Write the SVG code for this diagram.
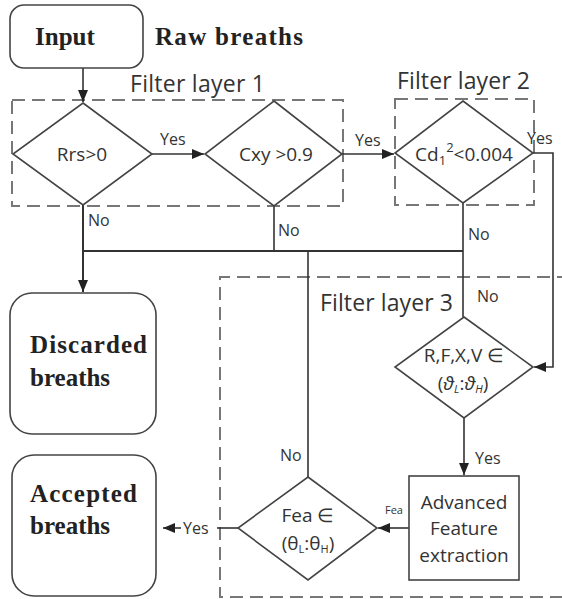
<svg xmlns="http://www.w3.org/2000/svg" width="562" height="599" viewBox="0 0 562 599">
<style>
.ln{fill:none;stroke:#333;stroke-width:1.6}
.sh{fill:#fff;stroke:#444;stroke-width:1.6}
.dash{fill:none;stroke:#777;stroke-width:2;stroke-dasharray:13 7}
.bt{font-family:"Liberation Serif",serif;font-weight:bold;font-size:25px;fill:#222}
.st{font-family:"Open Sans","Liberation Sans",sans-serif;fill:#333}
.lay{font-size:23px}
.dt{font-size:19px;text-anchor:middle}
.lb{font-size:16px}
</style>
<defs>
<marker id="ah" markerWidth="12" markerHeight="10" refX="12" refY="5" orient="auto" markerUnits="userSpaceOnUse">
<path d="M0,0 L12,5 L0,10 Z" fill="#222"/>
</marker>
</defs>
<g id="layers">
<rect class="dash" x="12" y="100" width="331" height="106"/>
<text class="st lay" x="130" y="92" textLength="135">Filter layer 1</text>
<rect class="dash" x="395" y="99" width="139" height="106"/>
<text class="st lay" x="397" y="89" textLength="133">Filter layer 2</text>
<path class="dash" d="M570,277 H220 V597 H570"/>
<text class="st lay" x="320" y="311" textLength="133">Filter layer 3</text>
</g>
<g id="connectors">
<path class="ln" d="M83,68 V102" marker-end="url(#ah)"/>
<path class="ln" d="M151,154 H204" marker-end="url(#ah)"/>
<text class="st lb" x="160" y="145">Yes</text>
<path class="ln" d="M342,154 H394" marker-end="url(#ah)"/>
<text class="st lb" x="355" y="146">Yes</text>
<path class="ln" d="M533,153 H553 V367 H534" marker-end="url(#ah)"/>
<text class="st lb" x="527" y="144">Yes</text>
<path class="ln" d="M83,205 V292" marker-end="url(#ah)" style="stroke-width:2"/>
<path class="ln" d="M274,206 V251" />
<path class="ln" d="M83,251 H463" style="stroke-width:2"/>
<path class="ln" d="M463,203 V317"/>
<text class="st lb" x="88" y="226">No</text>
<text class="st lb" x="278" y="236">No</text>
<text class="st lb" x="468" y="240">No</text>
<text class="st lb" x="477" y="302">No</text>
<path class="ln" d="M308,251 V477"/>
<text class="st lb" x="280" y="461">No</text>
<path class="ln" d="M464,418 V475" marker-end="url(#ah)"/>
<text class="st lb" x="475" y="464">Yes</text>
<path class="ln" d="M409,528 H378" marker-end="url(#ah)"/>
<text class="st" font-size="11" x="385" y="514">Fea</text>
<path class="ln" d="M238,528 H217"/>
<path class="ln" d="M181,528 H163" marker-end="url(#ah)"/>
<text class="st lb" x="183" y="534">Yes</text>
</g>
<g id="input">
<rect class="sh" x="10" y="5" width="133" height="63" rx="14"/>
<text class="bt" x="35" y="45">Input</text>
</g>
<text class="bt" id="raw" x="155" y="45" textLength="148">Raw breaths</text>
<g id="rrs">
<path class="sh" d="M83,103 L152,154 L83,205 L13,154 Z"/>
<text class="st dt" x="82" y="161">Rrs&gt;0</text>
</g>
<g id="cxy">
<path class="sh" d="M274,101 L342,154 L274,206 L205,154 Z"/>
<text class="st dt" x="276" y="161">Cxy &gt;0.9</text>
</g>
<g id="cd">
<path class="sh" d="M463,101 L533,153 L463,203 L395,153 Z"/>
<text class="st dt" x="464" y="161">Cd<tspan font-size="13" dy="4">1</tspan><tspan font-size="13" dy="-13">2</tspan><tspan dy="9">&lt;0.004</tspan></text>
</g>
<g id="rfxv">
<path class="sh" d="M464,317 L533,367 L464,418 L395,367 Z"/>
<text class="st dt" x="464" y="362">R,F,X,V ∈</text>
<text class="st dt" x="463" y="390">(<tspan font-style="italic">ϑ</tspan><tspan font-size="11" font-style="italic" dy="3">L</tspan><tspan dy="-3">:</tspan><tspan font-style="italic">ϑ</tspan><tspan font-size="11" font-style="italic" dy="3">H</tspan><tspan dy="-3">)</tspan></text>
</g>
<g id="advanced">
<rect class="sh" x="409" y="476" width="110" height="104"/>
<text class="st" font-size="19" text-anchor="middle" x="464" y="509">Advanced</text>
<text class="st" font-size="19" text-anchor="middle" x="464" y="535">Feature</text>
<text class="st" font-size="19" text-anchor="middle" x="464" y="562">extraction</text>
</g>
<g id="fea">
<path class="sh" d="M308,477 L377,528 L308,580 L238,528 Z"/>
<text class="st dt" x="308" y="522">Fea ∈</text>
<text class="st dt" x="308" y="550">(θ<tspan font-size="11" dy="3">L</tspan><tspan dy="-3">:θ</tspan><tspan font-size="11" dy="3">H</tspan><tspan dy="-3">)</tspan></text>
</g>
<g id="discarded">
<rect class="sh" x="10" y="293" width="146" height="141" rx="22"/>
<text class="bt" x="30" y="353" textLength="117">Discarded</text>
<text class="bt" x="30" y="386">breaths</text>
</g>
<g id="accepted">
<rect class="sh" x="12" y="455" width="144" height="141" rx="22"/>
<text class="bt" x="30" y="502" textLength="107">Accepted</text>
<text class="bt" x="30" y="534">breaths</text>
</g>
</svg>
